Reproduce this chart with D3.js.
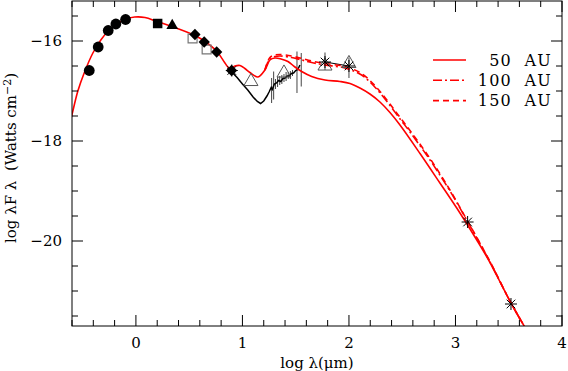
<!DOCTYPE html>
<html><head><meta charset="utf-8">
<script src="https://cdn.jsdelivr.net/npm/d3@7"></script>
<style>
body{margin:0;background:#fff;}
svg{display:block;}
text{font-family:"DejaVu Serif",serif;fill:#000;}
</style></head>
<body>
<svg id="c" width="568" height="371"></svg>
<script>
// ---------- data ----------
const xTicks = [0,1,2,3,4];
const yTicks = [-16,-18,-20];
const legendLabels = ["50 AU","100 AU","150 AU"];

const filledCircles = [[-0.438,-16.59],[-0.354,-16.12],[-0.26,-15.79],[-0.188,-15.66],[-0.097,-15.57]];
const filledSquares = [[0.204,-15.65]];
const filledTriangles = [[0.341,-15.69]];
const filledDiamonds = [[0.554,-15.87],[0.641,-16.02],[0.758,-16.22],[0.898,-16.59]];
const openSquares = [[0.532,-15.95],[0.664,-16.17]];
const openTriangles = [[1.08,-16.81],[1.39,-16.64],[1.775,-16.50],[2.0,-16.45]];
const asterisks = [[0.9,-16.59],[1.775,-16.42],[2.0,-16.50],[3.114,-19.62],[3.521,-21.26]];
const asteriskLink = [[1.775,-16.42],[2.0,-16.50]];

// spectrum (log lambda, log lambdaF)
const spectrum = [[0.86,-16.54],[0.90,-16.62],[0.95,-16.73],[1.0,-16.86],[1.05,-16.98],[1.10,-17.12],
  [1.14,-17.21],[1.17,-17.25],[1.20,-17.20],[1.23,-17.10],[1.25,-17.02],[1.27,-16.93],[1.28,-16.97],
  [1.30,-16.86],[1.32,-16.84],[1.34,-16.79],[1.36,-16.81],[1.38,-16.75],[1.40,-16.74],[1.42,-16.70],
  [1.44,-16.70],[1.46,-16.65],[1.48,-16.64],[1.50,-16.59],[1.52,-16.57],[1.54,-16.48]];
// error bars: [log lambda, top, bottom]
const errorBars = [[1.274,-16.74,-17.24],[1.293,-16.61,-17.17],[1.31,-16.76,-16.96],[1.33,-16.72,-16.92],
  [1.35,-16.70,-16.88],[1.37,-16.68,-16.86],[1.39,-16.66,-16.82],[1.41,-16.62,-16.80],[1.43,-16.62,-16.76],
  [1.45,-16.60,-16.76],[1.47,-16.58,-16.70],[1.512,-16.21,-17.04],[1.552,-16.24,-16.91],
  [1.775,-16.23,-16.58],[2.0,-16.33,-16.74]];

const modelShared = [[-0.65,-17.86],[-0.607,-17.53],[-0.545,-17.0],[-0.482,-16.62],[-0.404,-16.24],[-0.326,-15.97],
  [-0.232,-15.74],[-0.106,-15.57],[-0.012,-15.52],[0.085,-15.53],[0.197,-15.61],[0.338,-15.71],
  [0.554,-15.89],[0.648,-16.01],[0.761,-16.21],[0.836,-16.44],[0.88,-16.55],[0.93,-16.50],
  [0.977,-16.49],[1.023,-16.55],[1.07,-16.63],[1.146,-16.72],[1.211,-16.58]];
const model50 = [[1.258,-16.38],[1.305,-16.34],[1.362,-16.36],[1.427,-16.41],[1.493,-16.52],[1.556,-16.61],
  [1.65,-16.71],[1.775,-16.78],[1.915,-16.81],[2.01,-16.85],[2.103,-16.94],[2.197,-17.06],[2.291,-17.22],
  [2.385,-17.43],[2.479,-17.68],[2.667,-18.25],[2.854,-18.84],[3.042,-19.44],[3.2,-19.98],[3.324,-20.43],
  [3.521,-21.24],[3.70,-21.90]];
const model100 = [[1.258,-16.35],[1.305,-16.31],[1.352,-16.30],[1.462,-16.33],[1.54,-16.37],[1.65,-16.43],
  [1.775,-16.48],[1.962,-16.54],[2.119,-16.68],[2.225,-16.88],[2.30,-17.06],[2.385,-17.29],[2.48,-17.56],
  [2.573,-17.82],[2.761,-18.38],[2.948,-19.00],[3.1,-19.56],[3.324,-20.42],[3.521,-21.24],[3.70,-21.90]];
const model150 = [[1.258,-16.33],[1.305,-16.28],[1.352,-16.27],[1.462,-16.30],[1.54,-16.34],[1.65,-16.40],
  [1.775,-16.45],[1.962,-16.51],[2.119,-16.65],[2.225,-16.85],[2.30,-17.03],[2.385,-17.26],[2.48,-17.53],
  [2.573,-17.79],[2.761,-18.35],[2.948,-18.98],[3.1,-19.55],[3.324,-20.41],[3.521,-21.24],[3.70,-21.90]];

// ---------- chart ----------
const svg = d3.select("#c");
const L=72, R=562, T=1, B=326;
const x = d3.scaleLinear().domain([-0.6,4]).range([L,R]);
const y = d3.scaleLinear().domain([-15.2,-21.7]).range([T,B]);

svg.append("defs").append("clipPath").attr("id","clip")
  .append("rect").attr("x",L).attr("y",T).attr("width",R-L).attr("height",B-T);

const plot = svg.append("g").attr("clip-path","url(#clip)");
const line = d3.line().x(d=>x(d[0])).y(d=>y(d[1])).curve(d3.curveCatmullRom.alpha(0.5));

// spectrum and error bars
plot.selectAll(".eb").data(errorBars).join("line")
  .attr("x1",d=>x(d[0])).attr("x2",d=>x(d[0])).attr("y1",d=>y(d[1])).attr("y2",d=>y(d[2]))
  .attr("stroke","#444").attr("stroke-width",1);
plot.append("path").datum(spectrum).attr("d",d3.line().x(d=>x(d[0])).y(d=>y(d[1])))
  .attr("fill","none").attr("stroke","#000").attr("stroke-width",1.5);
plot.append("path").datum(asteriskLink).attr("d",d3.line().x(d=>x(d[0])).y(d=>y(d[1])))
  .attr("fill","none").attr("stroke","#000").attr("stroke-width",1);

// models
const red="#ff0000";
const models = [
  {data: modelShared.concat(model50), dash:null},
  {data: modelShared.slice(-1).concat(model100), dash:"9,3,2,3"},
  {data: modelShared.slice(-1).concat(model150), dash:"6,4"}
];
models.forEach(m=>{
  plot.append("path").datum(m.data).attr("d",line).attr("fill","none")
    .attr("stroke",red).attr("stroke-width",1.6).attr("stroke-dasharray",m.dash);
});

// markers
function sym(type,size){return d3.symbol().type(type).size(size)();}
plot.selectAll(".oc").data(filledCircles).join("circle")
  .attr("cx",d=>x(d[0])).attr("cy",d=>y(d[1])).attr("r",5.4).attr("fill","#000");
plot.selectAll(".fs").data(filledSquares).join("path")
  .attr("transform",d=>`translate(${x(d[0])},${y(d[1])})`).attr("d",sym(d3.symbolSquare,90)).attr("fill","#000");
plot.selectAll(".ft").data(filledTriangles).join("path")
  .attr("transform",d=>`translate(${x(d[0])},${y(d[1])})`).attr("d",sym(d3.symbolTriangle,60)).attr("fill","#000");
plot.selectAll(".os").data(openSquares).join("path")
  .attr("transform",d=>`translate(${x(d[0])},${y(d[1])})`).attr("d",sym(d3.symbolSquare,80))
  .attr("fill","none").attr("stroke","#777").attr("stroke-width",1.2);
plot.selectAll(".fd").data(filledDiamonds).join("path")
  .attr("transform",d=>`translate(${x(d[0])},${y(d[1])}) rotate(45)`).attr("d",sym(d3.symbolSquare,64)).attr("fill","#000");
plot.selectAll(".ot").data(openTriangles).join("path")
  .attr("transform",d=>`translate(${x(d[0])},${y(d[1])})`).attr("d",sym(d3.symbolTriangle,85))
  .attr("fill","none").attr("stroke","#555").attr("stroke-width",1);
const ast = "M0,-6L0,6M-6,0L6,0M-4.3,-4.3L4.3,4.3M-4.3,4.3L4.3,-4.3";
plot.selectAll(".as").data(asterisks).join("path")
  .attr("transform",d=>`translate(${x(d[0])},${y(d[1])})`).attr("d",ast)
  .attr("fill","none").attr("stroke","#000").attr("stroke-width",1);

// frame and ticks
svg.append("rect").attr("x",L).attr("y",T).attr("width",R-L).attr("height",B-T)
  .attr("fill","none").attr("stroke","#000").attr("stroke-width",1);
const ax = svg.append("g").attr("stroke","#000").attr("stroke-width",1);
const xMinor = d3.range(-0.6,4.0001,0.2).map(v=>+v.toFixed(1));
xMinor.forEach(v=>{
  const major = xTicks.includes(v); const len = major?11:6;
  ax.append("line").attr("x1",x(v)).attr("x2",x(v)).attr("y1",B).attr("y2",B-len);
  ax.append("line").attr("x1",x(v)).attr("x2",x(v)).attr("y1",T).attr("y2",T+len);
});
const yMinor = d3.range(-15.5,-21.7,-0.5).map(v=>+v.toFixed(1));
yMinor.forEach(v=>{
  const major = yTicks.includes(v); const len = major?11:6;
  ax.append("line").attr("y1",y(v)).attr("y2",y(v)).attr("x1",L).attr("x2",L+len);
  ax.append("line").attr("y1",y(v)).attr("y2",y(v)).attr("x1",R).attr("x2",R-len);
});
svg.selectAll(".xl").data(xTicks).join("text")
  .attr("x",d=>x(d)).attr("y",348).attr("text-anchor","middle").attr("font-size",15).text(d=>d);
svg.selectAll(".yl").data(yTicks).join("text")
  .attr("x",62).attr("y",d=>y(d)+5).attr("text-anchor","end").attr("font-size",15).text(d=>"\u2212"+Math.abs(d));

svg.append("text").attr("x",317).attr("y",368).attr("text-anchor","middle").attr("font-size",15)
  .text("log λ(μm)");
const yl = svg.append("text").attr("transform","translate(16,158) rotate(-90)").attr("text-anchor","middle")
  .attr("font-size",15).style("white-space","pre");
yl.append("tspan").text("log λF ");
yl.append("tspan").text("λ");
yl.append("tspan").text("  (Watts cm");
yl.append("tspan").attr("dy",-5).attr("font-size",11).text("−2");
yl.append("tspan").attr("dy",5).text(")");

// legend
const lg = svg.append("g");
const dashes=[null,"9,3,2,3","6,4"];
legendLabels.forEach((t,i)=>{
  const yy = 60 + i*20.3;
  lg.append("line").attr("x1",433).attr("x2",466).attr("y1",yy).attr("y2",yy)
    .attr("stroke",red).attr("stroke-width",1.6).attr("stroke-dasharray",dashes[i]);
  lg.append("text").attr("x",552).attr("y",yy+5.5).attr("text-anchor","end").attr("font-size",16)
    .attr("letter-spacing",1.2).style("white-space","pre").text(t.replace(" ","  "));
});
</script>
</body></html>
